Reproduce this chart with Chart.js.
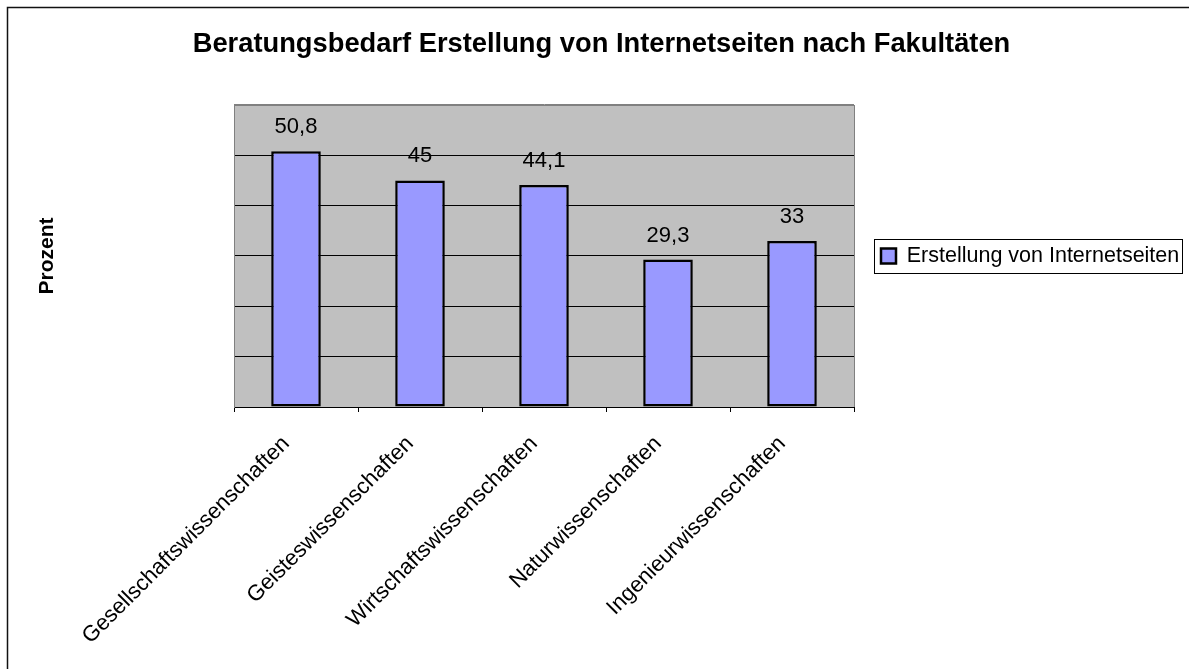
<!DOCTYPE html>
<html>
<head>
<meta charset="utf-8">
<script src="https://cdn.jsdelivr.net/npm/chart.js@4"></script>
<style>
  html, body { margin: 0; padding: 0; background: #fff; }
</style>
</head>
<body>
<canvas id="chart" width="1189" height="669"></canvas>
<script>
// data
const categories = [
  'Gesellschaftswissenschaften',
  'Geisteswissenschaften',
  'Wirtschaftswissenschaften',
  'Naturwissenschaften',
  'Ingenieurwissenschaften'
];
const values = [50.8, 45, 44.1, 29.3, 33];
const seriesName = 'Erstellung von Internetseiten';
const chartTitle = 'Beratungsbedarf Erstellung von Internetseiten nach Fakultäten';
const yTitle = 'Prozent';
const yMin = 0;
const yMax = 60;
const yStep = 10;

const FONT = "'Liberation Sans', Arial, sans-serif";
const W = 1189, H = 669;
const plotLeft = 234, plotRight = 854, plotBottom = 407;
const legendFont = 21.5, legendBox = 15, legendPad = 27;

// work out how wide the legend will be so the plot ends where it should
const mctx = document.createElement('canvas').getContext('2d');
mctx.font = 'normal ' + legendFont + 'px ' + FONT;
const legendWidth = legendPad + legendBox + legendFont / 2 + mctx.measureText(seriesName).width + 10;
const padRight = Math.max(0, W - plotRight - legendWidth);

const frame = {
  id: 'frame',
  beforeDraw(chart) {
    const { ctx, chartArea: a } = chart;
    ctx.save();
    ctx.fillStyle = '#fff';
    ctx.fillRect(0, 0, W, H);
    ctx.strokeStyle = '#111';
    ctx.lineWidth = 1.5;
    ctx.strokeRect(7.5, 7.5, W + 20, H + 20);
    ctx.fillStyle = '#c0c0c0';
    ctx.fillRect(a.left, a.top, a.right - a.left, a.bottom - a.top);
    ctx.strokeStyle = '#808080';
    ctx.lineWidth = 1;
    ctx.strokeRect(Math.round(a.left) + 0.5, Math.round(a.top) + 0.5,
      Math.round(a.right - a.left), Math.round(a.bottom - a.top));
    ctx.restore();
  },
  afterDraw(chart) {
    // box round the legend
    const hb = chart.legend.legendHitBoxes[0];
    if (!hb) return;
    const { ctx } = chart;
    const cy = hb.top + hb.height / 2;
    ctx.save();
    ctx.strokeStyle = '#000';
    ctx.lineWidth = 1;
    ctx.strokeRect(Math.round(hb.left - 7) + 0.5, Math.round(cy - 17) + 0.5,
      Math.round(hb.width + 10), 34);
    ctx.restore();
  }
};

const barValues = {
  id: 'barValues',
  afterDatasetsDraw(chart) {
    const { ctx } = chart;
    const meta = chart.getDatasetMeta(0);
    ctx.save();
    ctx.font = '22px ' + FONT;
    ctx.fillStyle = '#000';
    ctx.textAlign = 'center';
    ctx.textBaseline = 'alphabetic';
    meta.data.forEach((bar, i) => {
      const txt = String(values[i]).replace('.', ',');
      ctx.fillText(txt, bar.x, bar.y - 18);
    });
    ctx.restore();
  }
};

new Chart(document.getElementById('chart'), {
  type: 'bar',
  data: {
    labels: categories,
    datasets: [{
      label: seriesName,
      data: values,
      backgroundColor: '#9999ff',
      borderColor: '#000',
      borderWidth: 2.5,
      borderSkipped: false,
      barPercentage: 0.4,
      categoryPercentage: 1
    }]
  },
  options: {
    responsive: false,
    animation: false,
    layout: { padding: { left: 14, right: padRight, top: 0, bottom: 0 } },
    plugins: {
      title: {
        display: true,
        text: chartTitle,
        color: '#000',
        font: { family: FONT, size: 27.3, weight: 'bold' },
        padding: { top: 28, bottom: 44.2 }
      },
      legend: {
        position: 'right',
        fullSize: false,
        maxWidth: W - plotRight,
        labels: {
          color: '#000',
          font: { family: FONT, size: legendFont },
          boxWidth: legendBox,
          boxHeight: legendBox,
          padding: legendPad
        }
      },
      tooltip: { enabled: false }
    },
    scales: {
      x: {
        afterFit(scale) { scale.height = H - plotBottom; },
        grid: {
          offset: true,
          drawOnChartArea: false,
          drawTicks: true,
          tickLength: 5,
          color: '#000'
        },
        border: { color: '#000' },
        ticks: {
          autoSkip: false,
          minRotation: 45,
          maxRotation: 45,
          padding: 19,
          labelOffset: -10,
          color: '#000',
          font: { family: FONT, size: 22 }
        }
      },
      y: {
        min: yMin,
        max: yMax,
        afterFit(scale) { scale.width = plotLeft - 14; },
        ticks: { display: false, stepSize: yStep },
        grid: {
          drawTicks: false,
          color: c => (c.tick && c.tick.value === yMax) ? '#808080' : '#000'
        },
        border: { color: '#808080' },
        title: {
          display: true,
          text: yTitle,
          color: '#000',
          font: { family: FONT, size: 21, weight: 'bold' },
          padding: { top: 21, bottom: 0 }
        }
      }
    }
  },
  plugins: [frame, barValues]
});
</script>
</body>
</html>
